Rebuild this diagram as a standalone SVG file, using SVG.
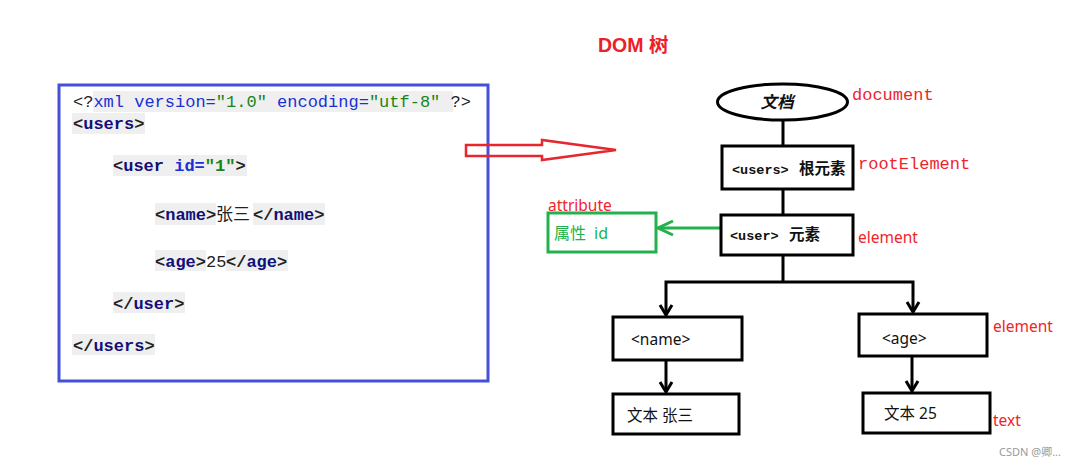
<svg xmlns="http://www.w3.org/2000/svg" width="1075" height="467" viewBox="0 0 1075 467" xml:space="preserve">
<style>
.code{font-family:"Liberation Mono","Noto Sans CJK SC",monospace;font-size:17px;}
.p{fill:#222222;font-weight:bold;}
.pn{fill:#222222;}
.t{fill:#10107a;font-weight:bold;}
.a{fill:#1a2fd6;}
.ab{fill:#1a2fd6;font-weight:bold;}
.v{fill:#17851a;}
.vb{fill:#17851a;font-weight:bold;}
.cn{fill:#222222;font-family:"Noto Sans CJK SC",sans-serif;font-size:17px;}
.hl{fill:#efefef;}
.box{fill:#ffffff;stroke:#000000;stroke-width:3;}
.lbl-mono{font-family:"Liberation Mono",monospace;font-size:17px;fill:#f0242c;}
.lbl{font-family:"Noto Sans","Noto Sans CJK SC",sans-serif;font-size:15.5px;fill:#f0242c;}
.node{font-family:"Noto Sans","Noto Sans CJK SC",sans-serif;font-size:15.5px;fill:#111111;}
.nodeb{font-family:"Liberation Mono","Noto Sans CJK SC",monospace;font-size:13.5px;font-weight:bold;fill:#111111;}
.nodecn{font-family:"Noto Sans CJK SC",sans-serif;font-size:15.5px;font-weight:bold;fill:#111111;}
.conn{fill:none;stroke:#000000;stroke-width:3;}
</style>
<defs>
<marker id="chev" markerUnits="userSpaceOnUse" viewBox="0 0 14 16" refX="12" refY="8" markerWidth="14" markerHeight="16" orient="auto">
<path d="M2,2 L12,8 L2,14" fill="none" stroke="#000000" stroke-width="3"/>
</marker>
<marker id="chevg" markerUnits="userSpaceOnUse" viewBox="0 0 18 18" refX="16" refY="9" markerWidth="18" markerHeight="18" orient="auto">
<path d="M1,2 L16,9 L1,16" fill="none" stroke="#22b14c" stroke-width="3"/>
</marker>
</defs>
<rect width="1075" height="467" fill="#ffffff"/>

<g id="xml-code">
<rect x="59" y="85" width="429" height="296" fill="#ffffff" stroke="#4450d8" stroke-width="3"/>
<rect class="hl" x="93" y="91" width="360" height="21"/>
<rect class="hl" x="72" y="113" width="73" height="21"/>
<rect class="hl" x="113" y="155" width="134" height="21"/>
<rect class="hl" x="155" y="203" width="61" height="22"/>
<rect class="hl" x="253" y="203" width="72" height="22"/>
<rect class="hl" x="155" y="250" width="51" height="21"/>
<rect class="hl" x="226" y="250" width="62" height="21"/>
<rect class="hl" x="113" y="292" width="72" height="21"/>
<rect class="hl" x="72" y="334" width="83" height="21"/>
<text class="code" x="73" y="107"><tspan class="pn">&lt;?</tspan><tspan class="a">xml version=</tspan><tspan class="v">"1.0"</tspan><tspan class="a"> encoding=</tspan><tspan class="v">"utf-8"</tspan><tspan class="pn"> ?&gt;</tspan></text>
<text class="code" x="73" y="129"><tspan class="p">&lt;</tspan><tspan class="t">users</tspan><tspan class="p">&gt;</tspan></text>
<text class="code" x="113" y="171"><tspan class="p">&lt;</tspan><tspan class="t">user</tspan><tspan class="ab"> id=</tspan><tspan class="vb">"1"</tspan><tspan class="p">&gt;</tspan></text>
<text class="code" x="155" y="220"><tspan class="p">&lt;</tspan><tspan class="t">name</tspan><tspan class="p">&gt;</tspan></text>
<text class="cn" x="216" y="220">张三</text>
<text class="code" x="253" y="220"><tspan class="p">&lt;/</tspan><tspan class="t">name</tspan><tspan class="p">&gt;</tspan></text>
<text class="code" x="155" y="267"><tspan class="p">&lt;</tspan><tspan class="t">age</tspan><tspan class="p">&gt;</tspan></text>
<text class="code" x="206" y="267" fill="#222222">25</text>
<text class="code" x="226" y="267"><tspan class="p">&lt;/</tspan><tspan class="t">age</tspan><tspan class="p">&gt;</tspan></text>
<text class="code" x="113" y="309"><tspan class="p">&lt;/</tspan><tspan class="t">user</tspan><tspan class="p">&gt;</tspan></text>
<text class="code" x="73" y="351"><tspan class="p">&lt;/</tspan><tspan class="t">users</tspan><tspan class="p">&gt;</tspan></text>
</g>

<g id="big-arrow">
<polygon points="466,145 542,145 542,140 616,150 542,160 542,156 466,156" fill="none" stroke="#e8262e" stroke-width="2.5" stroke-linejoin="miter"/>
</g>

<g id="title">
<text x="598" y="52" font-family="Liberation Sans,'Noto Sans CJK SC',sans-serif" font-size="19.5" font-weight="bold" fill="#ec2028">DOM 树</text>
</g>

<g id="connectors">
<path class="conn" d="M783,120 V146"/>
<path class="conn" d="M783,189 V215"/>
<path class="conn" d="M783,255 V282"/>
<path class="conn" d="M783,282 H666 V315" marker-end="url(#chev)"/>
<path class="conn" d="M783,282 H913 V312" marker-end="url(#chev)"/>
<path class="conn" d="M666,360 V392" marker-end="url(#chev)"/>
<path class="conn" d="M912,356 V391" marker-end="url(#chev)"/>
<path d="M720,228 H658" fill="none" stroke="#22b14c" stroke-width="3" marker-end="url(#chevg)"/>
</g>

<g id="node-document">
<ellipse cx="782.5" cy="102" rx="65" ry="18" fill="#ffffff" stroke="#000000" stroke-width="3"/>
<text x="777" y="108" text-anchor="middle" font-family="'Noto Sans CJK SC',sans-serif" font-size="16.5" font-weight="bold" font-style="italic" fill="#111111">文档</text>
<text class="lbl-mono" x="852" y="100">document</text>
</g>

<g id="node-users">
<rect class="box" x="722" y="146" width="131" height="43"/>
<text x="732" y="174"><tspan class="nodeb">&lt;users&gt;</tspan><tspan class="nodecn" x="799">根元素</tspan></text>
<text class="lbl-mono" x="858" y="169">rootElement</text>
</g>

<g id="node-user">
<rect class="box" x="721" y="215" width="132" height="40"/>
<text x="730" y="240"><tspan class="nodeb">&lt;user&gt;</tspan><tspan class="nodecn" x="789">元素</tspan></text>
<text class="lbl" x="858" y="242.5">element</text>
</g>

<g id="node-attribute">
<rect x="548" y="213" width="108" height="39" fill="#ffffff" stroke="#22b14c" stroke-width="3"/>
<text y="239" font-family="'Noto Sans','Noto Sans CJK SC',sans-serif" font-size="16" fill="#22b14c"><tspan x="554">属性</tspan><tspan x="594">id</tspan></text>
<text class="lbl" x="548" y="210.5">attribute</text>
</g>

<g id="node-name">
<rect class="box" x="613" y="317" width="129" height="43"/>
<text class="node" x="631" y="345">&lt;name&gt;</text>
</g>

<g id="node-name-text">
<rect class="box" x="613" y="394" width="126" height="40"/>
<text class="node" x="627" y="421">文本 张三</text>
</g>

<g id="node-age">
<rect class="box" x="859" y="314" width="128" height="42"/>
<text class="node" x="882" y="344">&lt;age&gt;</text>
<text class="lbl" x="993" y="331.5">element</text>
</g>

<g id="node-age-text">
<rect class="box" x="863" y="393" width="127" height="40"/>
<text class="node" x="884" y="419">文本 25</text>
<text class="lbl" x="993" y="426">text</text>
</g>

<g id="watermark">
<text x="1061" y="456" text-anchor="end" font-family="'Noto Sans','Noto Sans CJK SC',sans-serif" font-size="11" fill="#9a9a9a">CSDN @卿...</text>
</g>
</svg>
